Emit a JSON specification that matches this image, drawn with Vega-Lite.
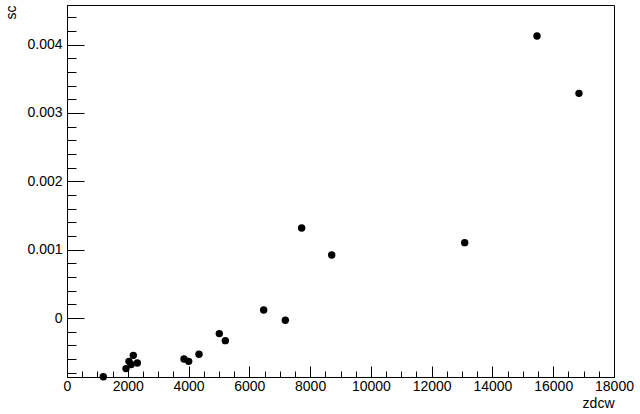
{
  "$schema": "https://vega.github.io/schema/vega-lite/v6.json",
  "width": 547,
  "height": 372,
  "autosize": "none",
  "padding": {"left": 67, "top": 5, "right": 26, "bottom": 37},
  "background": "white",
  "config": {
    "view": {"stroke": "black", "strokeWidth": 1},
    "font": "Liberation Sans",
    "axis": {"labelFont": "Liberation Sans", "titleFont": "Liberation Sans", "labelColor": "black", "titleColor": "black", "domainColor": "black", "tickColor": "black", "grid": false}
  },
  "data": {
    "values": [
      {"zdcw": 1195, "sc": -0.00086},
      {"zdcw": 1941, "sc": -0.00074},
      {"zdcw": 2040, "sc": -0.000634},
      {"zdcw": 2110, "sc": -0.00068},
      {"zdcw": 2182, "sc": -0.000546},
      {"zdcw": 2314, "sc": -0.000658},
      {"zdcw": 3850, "sc": -0.0006},
      {"zdcw": 4004, "sc": -0.000634},
      {"zdcw": 4344, "sc": -0.000531},
      {"zdcw": 5012, "sc": -0.000228},
      {"zdcw": 5210, "sc": -0.000331},
      {"zdcw": 6472, "sc": 0.000117},
      {"zdcw": 7184, "sc": -0.0000336},
      {"zdcw": 7722, "sc": 0.001317},
      {"zdcw": 8710, "sc": 0.000922},
      {"zdcw": 13087, "sc": 0.001103},
      {"zdcw": 15466, "sc": 0.004126},
      {"zdcw": 16848, "sc": 0.003287}
    ]
  },
  "resolve": {"axis": {"x": "independent", "y": "independent"}},
  "layer": [
    {
      "mark": {"type": "point", "filled": true, "shape": "circle", "size": 55, "color": "black", "opacity": 1},
      "encoding": {
        "x": {
          "field": "zdcw", "type": "quantitative",
          "scale": {"domain": [0, 18000], "nice": false, "zero": false},
          "axis": {
            "orient": "bottom",
            "title": "zdcw",
            "values": [0, 2000, 4000, 6000, 8000, 10000, 12000, 14000, 16000, 18000],
            "format": "d",
            "tickSize": -11,
            "labelPadding": 13,
            "labelFontSize": 14,
            "labelFlush": false,
            "titleFontSize": 14,
            "titleFontWeight": "normal",
            "titleAnchor": "end",
            "titleAlign": "right",
            "titlePadding": 3,
            "domain": true
          }
        },
        "y": {
          "field": "sc", "type": "quantitative",
          "scale": {"domain": [-0.000863, 0.00458], "nice": false, "zero": false},
          "axis": {
            "orient": "left",
            "title": "sc",
            "values": [0, 0.001, 0.002, 0.003, 0.004],
            "labelExpr": "datum.value == 0 ? '0' : format(datum.value, '.3f')",
            "tickSize": -17,
            "labelPadding": 22,
            "labelFontSize": 14,
            "labelFlush": false,
            "titleFontSize": 14,
            "titleFontWeight": "normal",
            "titleAnchor": "end",
            "titlePadding": 8,
            "domain": true
          }
        }
      }
    },
    {
      "mark": {"type": "point", "filled": true, "opacity": 0},
      "encoding": {
        "x": {
          "field": "zdcw", "type": "quantitative",
          "axis": {
            "orient": "bottom",
            "title": null,
            "labels": false,
            "domain": false,
            "tickSize": -6,
            "values": [500, 1000, 1500, 2500, 3000, 3500, 4500, 5000, 5500, 6500, 7000, 7500, 8500, 9000, 9500, 10500, 11000, 11500, 12500, 13000, 13500, 14500, 15000, 15500, 16500, 17000, 17500]
          }
        },
        "y": {
          "field": "sc", "type": "quantitative",
          "axis": {
            "orient": "left",
            "title": null,
            "labels": false,
            "domain": false,
            "tickSize": -9,
            "values": [-0.0008, -0.0006, -0.0004, -0.0002, 0.0002, 0.0004, 0.0006, 0.0008, 0.0012, 0.0014, 0.0016, 0.0018, 0.0022, 0.0024, 0.0026, 0.0028, 0.0032, 0.0034, 0.0036, 0.0038, 0.0042, 0.0044]
          }
        }
      }
    }
  ]
}
